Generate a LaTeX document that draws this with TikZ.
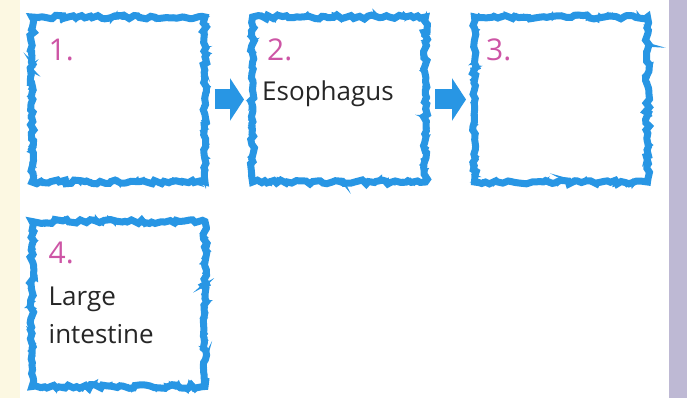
\documentclass[tikz,border=0pt]{standalone}
\usepackage{fontspec}
\setmainfont{Open Sans}
\usepackage{tikz}
\usetikzlibrary{positioning,arrows.meta,calc,decorations.pathmorphing}

\definecolor{boxblue}{RGB}{40,150,228}
\definecolor{numpink}{RGB}{205,85,165}
\definecolor{pageyellow}{RGB}{252,248,226}
\definecolor{edgeviolet}{RGB}{190,185,212}

\tikzset{
  stagebox/.style={draw=boxblue, line width=7pt, minimum width=173pt, minimum height=165pt,
    decorate, decoration={random steps, segment length=4pt, amplitude=2pt},
    postaction={draw=boxblue, line width=3pt, decorate,
      decoration={random steps, segment length=2.5pt, amplitude=3pt}}},
  stagenum/.style={text=numpink, font=\fontsize{30}{32}\selectfont, anchor=base west, inner sep=0pt},
  stagetext/.style={text=black!85, font=\fontsize{26}{38}\selectfont, anchor=base west,
    inner sep=0pt, align=left},
  flowarrow/.style={draw=boxblue, line width=20pt, shorten <=6pt, shorten >=5pt,
    -{Triangle[length=14pt, width=42pt]}}
}

\begin{document}
\begin{tikzpicture}[x=1pt, y=-1pt]

  \useasboundingbox (0,0) rectangle (687,398);
  \fill[pageyellow] (0,0) rectangle (20,398);
  \fill[edgeviolet] (669,0) rectangle (687,398);

  \node[stagebox] (b1) at (118.5,99.5) {};
  \node[stagebox] (b2) at (339,99.5) {};
  \node[stagebox] (b3) at (561,99.5) {};
  \node[stagebox] (b4) at (118.5,304) {};

  \node[stagenum] (n1) at ($(b1.north west)+(20,47)$) {1.};
  \node[stagenum] (n2) at ($(b2.north west)+(18,47)$) {2.};
  \node[stagenum] (n3) at ($(b3.north west)+(15,47)$) {3.};
  \node[stagenum] (n4) at ($(b4.north west)+(20,45)$) {4.};

  \node[stagetext] (t2) at ($(b2.north west)+(13,87)$) {Esophagus};
  \node[stagetext] (t4) at ($(b4.north west)+(20,125.5)$) {Large\\intestine};

  \draw[flowarrow] (b1) -- (b2);
  \draw[flowarrow] (b2) -- (b3);

\end{tikzpicture}
\end{document}
